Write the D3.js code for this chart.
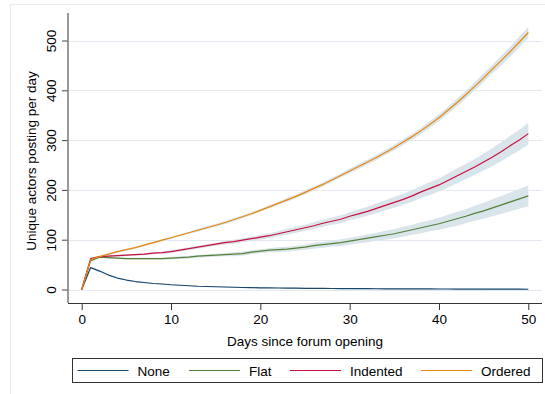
<!DOCTYPE html>
<html><head><meta charset="utf-8">
<script src="https://cdn.jsdelivr.net/npm/d3@7"></script>
<style>body{margin:0;background:#fff}svg{display:block}svg text{font-family:"Liberation Sans",Arial,sans-serif}</style>
</head><body><svg id="c" width="545" height="394"></svg>
<script>
const days = d3.range(0, 51);
const seriesNames = ["None", "Flat", "Indented", "Ordered"];
const colors = ["#1a476f", "#55803a", "#c8103e", "#e8870e"];
const xTicks = [0, 10, 20, 30, 40, 50];
const yTicks = [0, 100, 200, 300, 400, 500];

const noneVals = [0,44,37,29,23,19,16,14,12,11,9.5,8.5,7.5,6.5,6,5.5,5,4.5,4,3.7,3.4,3.2,3,2.8,2.6,2.4,2.2,2.1,2,1.9,1.8,1.7,1.6,1.5,1.4,1.3,1.2,1.2,1.1,1.1,1,1,0.9,0.9,0.8,0.8,0.7,0.7,0.6,0.6,0.5];
const flatVals = [0,58,65,64,63,62,62,62,62,62,63,64,65,67,68,69,70,71,72,75,77,79,80,81,83,85,88,90,92,94,97,100,103,106,109,112,116,120,124,128,132,137,142,147,153,158,164,170,176,182,188];
const indentedVals = [0,62,66,67,68,69,70,71,73,74,76,79,82,85,88,91,94,96,99,102,105,108,112,116,120,124,128,133,137,141,147,152,157,163,169,175,181,188,196,203,210,219,228,237,246,256,266,277,289,300,313];
const orderedVals = [0,60,66,71,76,80,84,89,94,99,104,109,114,119,124,129,134,140,146,152,159,166,173,180,187,195,203,211,220,229,238,247,256,265,275,285,296,307,319,332,345,360,375,391,408,425,443,460,478,497,516];

const noneCI = [0,1.5,1.5,1,1,1,1,1,1,1,1,1,1,1,1,1,1,1,1,1,1,1,1,1,1,1,1,1,1,1,1,1,1,1,1,1,1,1,1,1,1,1,1,1,1,1,1,1,1,1,1];
const flatCI = [0,2,2,2,2,2,2,2,2,2,3,3,3,3,3,3,3,4,4,4,4,4,5,5,5,5,6,6,6,7,7,7,8,8,9,9,10,10,11,11,12,13,14,14,15,16,17,18,19,20,21];
const indentedCI = [0,2,2,2,2,2,2,2,2,2,3,3,3,3,3,3,4,4,4,4,5,5,5,6,6,6,7,7,7,8,8,9,9,10,10,11,11,12,12,13,13,14,15,15,16,17,18,19,20,21,22];
const orderedCI = [0,2,2,2,2,2,2,2,2,2,2,2,2,3,3,3,3,3,3,3,3,3,3,4,4,4,4,4,4,4,5,5,5,5,5,6,6,6,6,7,7,7,8,8,8,9,9,10,10,11,11];

const values = [noneVals, flatVals, indentedVals, orderedVals];
const cis = [noneCI, flatCI, indentedCI, orderedCI];
const FS = 13.5;
const FF = "Liberation Sans, Arial, sans-serif";

const svg = d3.select("#c");
svg.append("rect").attr("x",10.5).attr("y",4.5).attr("width",560).attr("height",420)
  .attr("fill","none").attr("stroke","#e6ebf2").attr("stroke-width",1);

const L = 68, R = 542, T = 13, B = 303;
const x = d3.scaleLinear().domain([0,50]).range([81.7,528.3]);
const y = d3.scaleLinear().domain([0,500]).range([289.5,40.5]);

svg.append("g").selectAll("line").data(yTicks).join("line")
  .attr("x1",L).attr("x2",R).attr("y1",d=>Math.round(y(d))+0.5).attr("y2",d=>Math.round(y(d))+0.5)
  .attr("stroke","#e3e8f1").attr("stroke-width",1);

const area = (vals, ci) => d3.area().x((d,i)=>x(days[i])).y0((d,i)=>y(vals[i]-ci[i])).y1((d,i)=>y(vals[i]+ci[i]));
values.forEach((vals,k)=>{
  svg.append("path").datum(vals).attr("d", area(vals, cis[k])).attr("fill","#dae5eb").attr("stroke","none");
});
values.forEach((vals,k)=>{
  svg.append("path").datum(vals).attr("d", d3.line().x((d,i)=>x(days[i])).y(d=>y(d)))
    .attr("fill","none").attr("stroke",colors[k]).attr("stroke-width",1.2).attr("stroke-linejoin","round");
});

const ya = svg.append("g").attr("transform",`translate(${L},0)`)
  .call(d3.axisLeft(y).tickValues(yTicks).tickSize(6).tickSizeOuter(0).tickPadding(0))
  .attr("font-family",FF).attr("font-size",FS);
ya.select(".domain").remove();
ya.selectAll(".tick line").attr("stroke","#444");
ya.selectAll(".tick text").remove();
ya.selectAll(".tick").append("text").text(d=>d)
  .attr("transform","translate(-12.5,0) rotate(-90)").attr("text-anchor","middle")
  .attr("fill","#000").attr("font-size",FS).attr("font-family",FF);
svg.append("line").attr("x1",L).attr("x2",L).attr("y1",T).attr("y2",B).attr("stroke","#777").attr("stroke-width",1.5);

const xa = svg.append("g").attr("transform",`translate(0,${B})`)
  .call(d3.axisBottom(x).tickValues(xTicks).tickSize(7).tickSizeOuter(0).tickPadding(4))
  .attr("font-family",FF).attr("font-size",FS);
xa.select(".domain").remove();
xa.selectAll(".tick line").attr("stroke","#333");
xa.selectAll(".tick text").attr("fill","#000");
svg.append("line").attr("x1",L).attr("x2",R).attr("y1",B+0.5).attr("y2",B+0.5).attr("stroke","#333").attr("stroke-width",1.2);

svg.append("text").text("Days since forum opening").attr("x",305).attr("y",346)
  .attr("text-anchor","middle").attr("font-size",FS);
svg.append("text").text("Unique actors posting per day")
  .attr("transform",`translate(36,161) rotate(-90)`).attr("text-anchor","middle").attr("font-size",FS);

svg.append("rect").attr("x",72.5).attr("y",358.5).attr("width",470).attr("height",24)
  .attr("fill","#fff").attr("stroke","#333").attr("stroke-width",1);
const legX = [77.5, 189, 290, 421];
const lg = svg.append("g").selectAll("g").data(seriesNames).join("g")
  .attr("transform",(d,i)=>`translate(${legX[i]},370.5)`);
lg.append("line").attr("x1",0).attr("x2",51).attr("y1",0).attr("y2",0)
  .attr("stroke",(d,i)=>colors[i]).attr("stroke-width",1.2);
lg.append("text").text(d=>d).attr("x",60).attr("y",5).attr("font-size",FS);
</script></body></html>
